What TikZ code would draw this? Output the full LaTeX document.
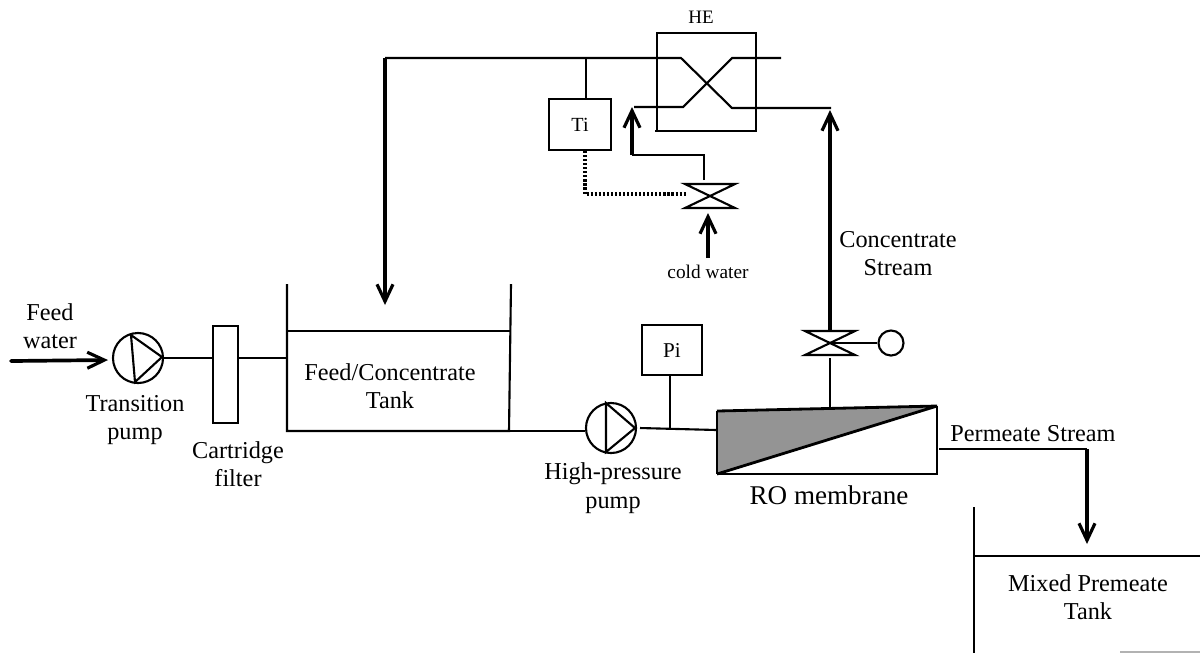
\documentclass[tikz,border=0pt]{standalone}
\usepackage{fontspec}
\setmainfont{Liberation Serif}
\usetikzlibrary{arrows.meta}
\tikzset{
  pipe/.style={line width=0.6pt},
  flow/.style={line width=1.05pt,-{Straight Barb[length=1.7mm,width=1.6mm,line width=0.9pt]}},
  instbox/.style={draw,line width=0.6pt,inner sep=0pt,font=\fontsize{5.7}{6.5}\selectfont},
  pumpnode/.style={circle,draw,line width=0.6pt,minimum size=0.5cm,inner sep=0pt},
  label/.style={align=center,inner sep=0pt,font=\fontsize{6.9}{8.1}\selectfont},
}
\begin{document}
\begin{tikzpicture}[x=0.01cm,y=-0.01cm]
\useasboundingbox (0,0) rectangle (1200,653);
% membrane
\coordinate (mTL) at (717,411);
\coordinate (mTR) at (937,406);
\coordinate (mBR) at (937,474);
\coordinate (mBL) at (717,474);
\fill [color=black!42](mTL) -- (mTR) -- (mBL) -- cycle;
\draw [pipe](mBL) -- (mTL);
\draw [pipe](mBL) -- (mBR) -- (mTR);
\draw [line width=0.8pt,line join=bevel](mTL) -- (mTR) -- (mBL);
\node [label,font=\fontsize{7.7}{9}\selectfont] (rolabel) at (829,495) {RO membrane};
% feed tank
\coordinate (tankTL) at (287,284);
\coordinate (tankBL) at (287,431);
\coordinate (tankTR) at (511,284);
\coordinate (tankBR) at (509,431);
\coordinate (tankLL) at (287,331);
\coordinate (tankLR) at (510,331);
\draw [pipe](tankTL) -- (tankBL) -- (tankBR) -- (tankTR);
\draw [pipe](tankLL) -- (tankLR);
\node [label] (tanklabel) at (390,386) {Feed/Concentrate\\Tank};
% mixed tank
\coordinate (mixTL) at (974,507);
\coordinate (mixBL) at (974,653);
\coordinate (mixL) at (974,556);
\coordinate (mixR) at (1200,556);
\draw [pipe](mixTL) -- (mixBL);
\draw [pipe](mixL) -- (mixR);
\node [label] (mixlabel) at (1088,597) {Mixed Premeate\\Tank};
\draw [color=black!30,line width=0.4pt](1120,652) -- (1200,652);
% feed line
\coordinate (feedin) at (11,361);
\node [pumpnode] (pumpA) at (138,358) {};
\node [instbox,minimum width=0.25cm,minimum height=0.97cm] (filter) at (225.5,374.5) {};
\draw [flow,line cap=round](feedin) -- (108,360);
\draw [pipe](pumpA.east) -- (pumpA.east -| filter.west);
\coordinate (filterout) at (238,358);
\draw [pipe](filterout) -- (tankBL |- filterout);
\draw [pipe](131,335) -- (135,382) -- (162,357) -- cycle;
\node [label] (feedlabel) at (50,326) {Feed\\water};
\node [label] (pumpAlabel) at (135,420) {Transition\\pump};
\node [label] (filterlabel) at (238,464) {Cartridge\\filter};
% high pressure line
\node [pumpnode] (pumpB) at (611,428) {};
\draw [pipe](tankBR) -- (tankBR -| pumpB.west);
\coordinate (pipeB) at (640,428);
\coordinate (memin) at (717,430);
\draw [pipe](pipeB) -- (memin);
\draw [pipe](606,403) -- (606,452) -- (635,428) -- cycle;
\node [label] (pumpBlabel) at (613,488) {High-pressure\\pump};
\node [instbox,minimum width=0.6cm,minimum height=0.5cm,font=\fontsize{6}{7}\selectfont] (Pi) at (672,350) {Pi};
\coordinate (Pitap) at (670,428);
\draw [pipe](Pi.south -| Pitap) -- (Pitap);
% concentrate valve
\coordinate (vA1) at (805,331);
\coordinate (vA2) at (855,331);
\coordinate (vA3) at (805,355);
\coordinate (vA4) at (855,355);
\coordinate (vAc) at (830,343);
\draw [pipe](vA1) -- (vA2) -- (vA3) -- (vA4) -- cycle;
\node [circle,draw,line width=0.6pt,minimum size=0.25cm,inner sep=0pt] (gauge) at (891,343) {};
\draw [pipe](vAc) -- (gauge.west);
\coordinate (vAout) at (830,358);
\coordinate (memtop) at (830,408);
\draw [pipe](memtop) -- (vAout);
\coordinate (conctop) at (830,110);
\draw [flow](830,331) -- (conctop);
\node [label] (conclabel) at (898,253.5) {Concentrate\\Stream};
% permeate
\coordinate (permA) at (939,449);
\coordinate (permB) at (1087,449);
\coordinate (permC) at (1087,544);
\draw [pipe](permA) -- (permB);
\draw [flow](permB) -- (permC);
\node [label] (permlabel) at (1033,434) {Permeate Stream};
% heat exchanger
\coordinate (heTL) at (657,33);
\coordinate (heTR) at (756,33);
\coordinate (heBR) at (756,131);
\coordinate (heBL) at (655,131);
\coordinate (heBLup) at (657,131);
\draw [pipe](heBLup) -- (heTL) -- (heTR) -- (heBR) -- (heBL);
\node [label,font=\fontsize{5.4}{6}\selectfont] (helabel) at (701,17) {HE};
\coordinate (retstart) at (385,58);
\coordinate (retx) at (681,58);
\coordinate (xout) at (732,108);
\coordinate (concin) at (831,108);
\draw [pipe](retstart) -- (retx) -- (xout) -- (concin);
\draw [flow](retstart) -- (385,305);
\coordinate (coldin) at (634,107);
\coordinate (xin) at (683,107);
\coordinate (xup) at (732,58);
\coordinate (coldout) at (781,58);
\draw [pipe](coldin) -- (xin) -- (xup) -- (coldout);
% temperature control
\node [instbox,minimum width=0.62cm,minimum height=0.51cm] (Ti) at (580,124.5) {Ti};
\coordinate (Titap) at (586,58);
\draw [pipe](Titap) -- (Titap |- Ti.north);
\coordinate (vB1) at (685,184);
\coordinate (vB2) at (735,184);
\coordinate (vB3) at (685,208);
\coordinate (vB4) at (735,208);
\draw [pipe](vB1) -- (vB2) -- (vB3) -- (vB4) -- cycle;
\coordinate (ctrlcorner) at (585,194);
\coordinate (ctrlend) at (687,194);
\draw [line width=1.05pt,dash pattern=on 0.6pt off 0.55pt](Ti.south -| ctrlcorner) -- (ctrlcorner) -- (ctrlend);
\coordinate (vBtop) at (704,180);
\coordinate (vBbend) at (704,155);
\coordinate (coldbend) at (632,155);
\draw [pipe](vBtop) -- (vBbend) -- (coldbend);
\draw [flow](coldbend) -- (632,107);
\coordinate (coldstart) at (708,258);
\draw [flow](coldstart) -- (708,213);
\node [label,font=\fontsize{5.5}{6.5}\selectfont] (coldlabel) at (708,272) {cold water};
\end{tikzpicture}
\end{document}
